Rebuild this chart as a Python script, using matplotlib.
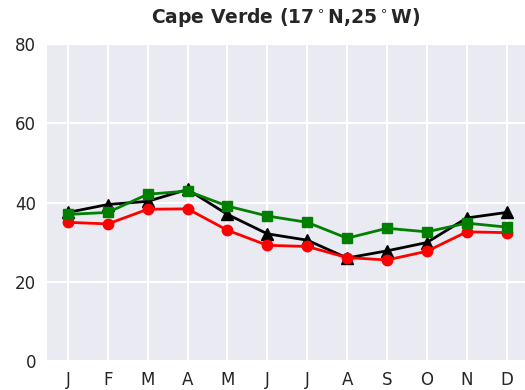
import numpy as np
import matplotlib
matplotlib.use('Agg')
import matplotlib.pyplot as plt
import seaborn as sns

# Monthly values for Cape Verde, three series
months = ['J', 'F', 'M', 'A', 'M', 'J', 'J', 'A', 'S', 'O', 'N', 'D']
black_vals = [37.5, 39.5, 40.3, 43.3, 37.0, 32.1, 30.5, 26.0, 27.8, 29.9, 36.1, 37.5]
red_vals = [35.0, 34.6, 38.3, 38.4, 33.0, 29.2, 28.9, 26.1, 25.5, 27.7, 32.6, 32.4]
green_vals = [37.0, 37.5, 42.1, 42.9, 39.1, 36.6, 35.0, 31.0, 33.5, 32.6, 34.8, 33.8]

sns.set_style('darkgrid')

fig = plt.figure(figsize=(5.25, 3.9), dpi=100)
ax = fig.add_axes([0.0876, 0.0744, 0.9124, 0.8126])

x = np.arange(len(months))
ax.plot(x, black_vals, '^-', color='black', lw=2, ms=9)
ax.plot(x, red_vals, 'o-', color='red', lw=2, ms=7.5)
ax.plot(x, green_vals, 's-', color='green', lw=2, ms=7)

ax.set_xticks(x)
ax.set_xticklabels(months, fontsize=12)
ax.set_xlim(-0.55, 11.46)
ax.set_ylim(0, 80)
ax.set_yticks([0, 20, 40, 60, 80])
ax.tick_params(axis='y', labelsize=12)
ax.grid(True, color='white', lw=1.5)
ax.set_title(r'Cape Verde (17$^\circ$N,25$^\circ$W)', fontsize=13.5, fontweight='bold', pad=15)

fig.savefig('out.png', dpi=100)
